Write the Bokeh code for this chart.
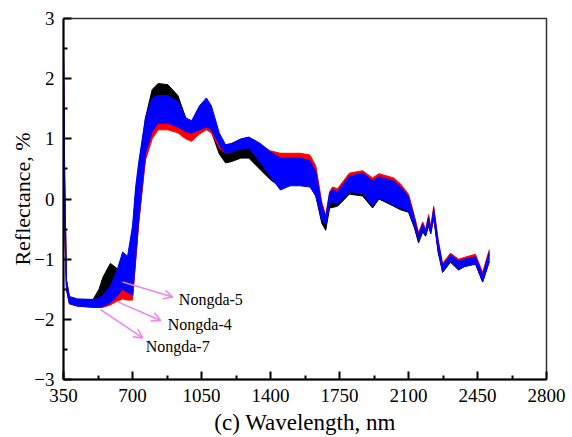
from bokeh.plotting import figure
from bokeh.models import Range1d, FixedTicker, Arrow, OpenHead, Label
from bokeh.embed import file_html
from bokeh.resources import INLINE

# ---- data ----
WL = [350, 356, 365, 380, 420, 500, 530, 550, 588, 620, 650,
      675, 700, 716, 731, 756, 766, 800, 830, 880, 930,
      970, 1000, 1040, 1075, 1100, 1140, 1172, 1200, 1250, 1290,
      1350, 1400, 1450, 1500, 1550, 1600, 1630, 1660, 1680, 1700,
      1715, 1740, 1800, 1867, 1918, 1950, 2025, 2060, 2100, 2130,
      2151, 2172, 2187, 2202, 2213, 2228, 2250, 2273, 2313, 2354,
      2385, 2415, 2440, 2476, 2510]

# Nongda-5 (black)
black_upper = [2.5, 0.3, -1.35, -1.63, -1.67, -1.67, -1.5, -1.3, -1.07, -1.15, -1.25,
               -1.3, -0.6, 0.1, 0.5, 1.1, 1.35, 1.82, 1.92, 1.9, 1.72,
               1.35, 1.25, 1.5, 1.6, 1.45, 0.95, 0.75, 0.78, 0.88, 0.9,
               0.8, 0.68, 0.55, 0.55, 0.55, 0.5, 0.35, -0.2, -0.4, 0.0,
               0.05, 0.04, 0.3, 0.35, 0.2, 0.28, 0.22, 0.12, -0.04, -0.36,
               -0.62, -0.44, -0.56, -0.33, -0.52, -0.2, -0.75, -1.13, -0.95, -1.06,
               -1.03, -1.0, -0.98, -1.28, -0.92]
black_lower = [1.9, -0.4, -1.5, -1.74, -1.77, -1.78, -1.76, -1.72, -1.58, -1.5, -1.52,
               -1.58, -1.62, -1.0, -0.4, 0.4, 0.7, 1.15, 1.32, 1.3, 1.22,
               1.1, 1.06, 1.15, 1.24, 1.12, 0.75, 0.6, 0.62, 0.68, 0.68,
               0.48, 0.32, 0.2, 0.25, 0.25, 0.22, 0.05, -0.4, -0.52, -0.15,
               -0.14, -0.12, 0.08, 0.05, -0.15, 0.0, -0.12, -0.18, -0.22, -0.48,
               -0.73, -0.55, -0.62, -0.45, -0.58, -0.32, -0.88, -1.22, -1.05, -1.18,
               -1.12, -1.1, -1.08, -1.38, -1.04]

# Nongda-4 (red)
red_upper = [2.4, 0.3, -1.35, -1.63, -1.67, -1.68, -1.66, -1.62, -1.5, -1.42, -1.4,
             -1.42, -1.0, -0.3, 0.2, 0.8, 0.95, 1.22, 1.34, 1.32, 1.27,
             1.12, 1.08, 1.22, 1.32, 1.25, 1.0, 0.9, 0.92, 0.98, 1.0,
             0.9, 0.8, 0.76, 0.76, 0.76, 0.73, 0.55, -0.05, -0.27, 0.12,
             0.2, 0.17, 0.43, 0.47, 0.35, 0.42, 0.35, 0.25, 0.08, -0.28,
             -0.56, -0.38, -0.5, -0.26, -0.46, -0.12, -0.67, -1.07, -0.9, -1.0,
             -0.97, -0.94, -0.92, -1.22, -0.84]
red_lower = [1.9, -0.4, -1.5, -1.74, -1.78, -1.8, -1.8, -1.8, -1.76, -1.7, -1.66,
             -1.68, -1.68, -1.05, -0.42, 0.35, 0.65, 1.0, 1.15, 1.15, 1.1,
             1.0, 0.96, 1.08, 1.15, 1.1, 0.85, 0.76, 0.78, 0.85, 0.86,
             0.7, 0.6, 0.56, 0.56, 0.56, 0.53, 0.38, -0.2, -0.38, 0.0,
             0.05, 0.02, 0.27, 0.3, 0.17, 0.24, 0.17, 0.08, -0.08, -0.4,
             -0.66, -0.48, -0.58, -0.38, -0.54, -0.25, -0.8, -1.18, -1.0, -1.12,
             -1.08, -1.05, -1.04, -1.33, -0.98]

# Nongda-7 (blue)
blue_upper = [2.6, 0.4, -1.35, -1.62, -1.66, -1.67, -1.65, -1.6, -1.45, -1.2, -0.88,
              -0.95, -0.45, 0.2, 0.6, 1.14, 1.35, 1.68, 1.72, 1.72, 1.62,
              1.35, 1.3, 1.55, 1.68, 1.55, 1.1, 0.9, 0.92, 1.0, 1.03,
              0.92, 0.78, 0.68, 0.68, 0.68, 0.64, 0.45, -0.1, -0.3, 0.1,
              0.16, 0.12, 0.38, 0.43, 0.3, 0.37, 0.3, 0.2, 0.04, -0.32,
              -0.6, -0.42, -0.53, -0.3, -0.5, -0.16, -0.7, -1.1, -0.93, -1.03,
              -1.0, -0.98, -0.96, -1.26, -0.88]
blue_lower = [1.9, -0.4, -1.5, -1.74, -1.78, -1.8, -1.8, -1.79, -1.72, -1.62, -1.5,
              -1.55, -1.6, -0.95, -0.35, 0.45, 0.76, 1.12, 1.26, 1.26, 1.2,
              1.12, 1.1, 1.15, 1.2, 1.15, 0.9, 0.76, 0.78, 0.83, 0.85,
              0.6, 0.37, 0.15, 0.22, 0.22, 0.2, 0.05, -0.35, -0.42, -0.08,
              -0.05, -0.07, 0.12, 0.1, -0.12, 0.02, -0.1, -0.15, -0.2, -0.45,
              -0.7, -0.52, -0.6, -0.42, -0.56, -0.3, -0.85, -1.2, -1.04, -1.17,
              -1.12, -1.1, -1.08, -1.38, -1.03]

X_TICKS = [350, 700, 1050, 1400, 1750, 2100, 2450, 2800]
X_MINOR = [525, 875, 1225, 1575, 1925, 2275, 2625]
Y_TICKS = [-3, -2, -1, 0, 1, 2, 3]
Y_MINOR = [-2.5, -1.5, -0.5, 0.5, 1.5, 2.5]

GROUPS = [("Nongda-5", black_lower, black_upper, "#000000"),
          ("Nongda-4", red_lower, red_upper, "#ff0000"),
          ("Nongda-7", blue_lower, blue_upper, "#0000ff")]

FONT = "Liberation Serif"

p = figure(width=572, height=437, output_backend="svg", toolbar_location=None,
           x_range=Range1d(350, 2800), y_range=Range1d(-3, 3),
           min_border_left=63, min_border_right=26, min_border_top=18,
           min_border_bottom=57)
p.grid.visible = False
p.background_fill_color = "white"
p.border_fill_color = "white"
p.outline_line_color = "#333333"
p.outline_line_width = 1.5

for name, lo, up, col in GROUPS:
    p.varea(x=WL, y1=lo, y2=up, fill_color=col, fill_alpha=1.0)
    p.line(WL, up, line_color=col, line_width=1)
    p.line(WL, lo, line_color=col, line_width=1)

p.xaxis.ticker = FixedTicker(ticks=X_TICKS, minor_ticks=X_MINOR)
p.yaxis.ticker = FixedTicker(ticks=Y_TICKS, minor_ticks=Y_MINOR)

for ax in (p.xaxis[0], p.yaxis[0]):
    ax.axis_line_width = 2
    ax.axis_line_color = "black"
    ax.major_tick_in = 8
    ax.major_tick_out = 0
    ax.minor_tick_in = 4
    ax.minor_tick_out = 0
    ax.major_tick_line_width = 2
    ax.minor_tick_line_width = 2
    ax.major_label_text_font = FONT
    ax.major_label_text_font_size = "19px"
    ax.major_label_text_color = "black"
    ax.axis_label_text_font = FONT
    ax.axis_label_text_font_style = "normal"
    ax.axis_label_text_color = "black"

p.xaxis.axis_label = "(c) Wavelength, nm"
p.yaxis.axis_label = "Reflectance, %"
p.xaxis.axis_label_text_font_size = "23px"
p.yaxis.axis_label_text_font_size = "22px"
p.xaxis.major_label_standoff = 9
p.xaxis.axis_label_standoff = 5
p.yaxis.major_label_standoff = 9
p.yaxis.axis_label_standoff = -4

ARROW_COLOR = "#ee82ee"
annots = [("Nongda-5", 650, -1.38, 904, -1.63, 935, -1.67),
          ("Nongda-4", 625, -1.71, 843, -2.02, 879, -2.09),
          ("Nongda-7", 538, -1.84, 752, -2.31, 767, -2.45)]
for txt, xs, ys, xe, ye, xt, yt in annots:
    p.add_layout(Arrow(end=OpenHead(size=9, line_color=ARROW_COLOR, line_width=1.5),
                       x_start=xs, y_start=ys, x_end=xe, y_end=ye,
                       line_color=ARROW_COLOR, line_width=1.5))
    p.add_layout(Label(x=xt, y=yt, text=txt, text_font=FONT, text_font_size="16px",
                       text_baseline="middle", text_color="black"))

open("out.html", "w").write(file_html(p, INLINE))
